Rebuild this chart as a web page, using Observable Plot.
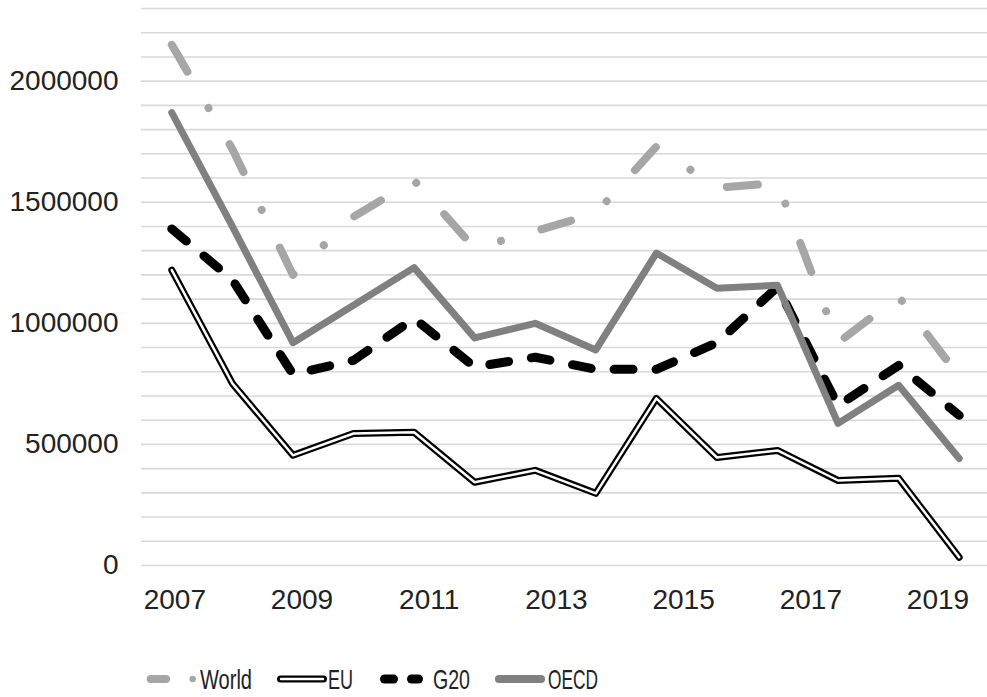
<!DOCTYPE html>
<html>
<head>
<meta charset="utf-8">
<script src="https://cdn.jsdelivr.net/npm/d3@7"></script>
<script src="https://cdn.jsdelivr.net/npm/@observablehq/plot@0.6"></script>
<style>
  html, body { margin: 0; padding: 0; background: #fff; }
  #wrap { position: relative; width: 987px; height: 697px; overflow: hidden; }
  #legend { position: absolute; left: 0; top: 630px; }
</style>
</head>
<body>
<div id="wrap">
  <div id="chart"></div>
  <svg id="legend" width="987" height="67"></svg>
</div>
<script>
// ---- data ----
const years = [2007, 2008, 2009, 2010, 2011, 2012, 2013, 2014, 2015, 2016, 2017, 2018, 2019, 2020];
const world = [2150000, 1720000, 1200000, 1440000, 1590000, 1310000, 1380000, 1455000, 1730000, 1560000, 1580000, 920000, 1110000, 780000];
const eu    = [1220000, 752000, 455000, 545000, 550000, 344000, 393000, 298000, 690000, 446000, 475000, 351000, 360000, 34000];
const g20   = [1390000, 1180000, 790000, 847000, 1020000, 820000, 860000, 810000, 810000, 920000, 1150000, 660000, 826000, 620000];
const oecd  = [1870000, 1400000, 920000, 1075000, 1230000, 940000, 1000000, 890000, 1290000, 1145000, 1157000, 587000, 744000, 442000];
const seriesNames = ["World", "EU", "G20", "OECD"];
const xTickLabels = ["2007", "2009", "2011", "2013", "2015", "2017", "2019"];
const yTickValues = [0, 500000, 1000000, 1500000, 2000000];

// ---- layout helpers ----
const gridValues = d3.range(0, 2300001, 100000);
const labelStep = 2.1; // the reference's year labels sit slightly wider apart than the points
const xTickPos = xTickLabels.map((_, k) => years[0] + 0.05 + labelStep * k);
const labelByPos = new Map(xTickPos.map((p, k) => [p, xTickLabels[k]]));

const font = "'Liberation Sans', Arial, sans-serif";
const xOf = (d, i) => years[i];
const yOf = d => d;
const common = {x: xOf, y: yOf, strokeLinecap: "round", strokeLinejoin: "round"};

const chart = Plot.plot({
  width: 987,
  height: 630,
  marginLeft: 141,
  marginRight: 0,
  marginTop: 8,
  marginBottom: 65,
  style: {fontFamily: font, fontSize: "28px", color: "#222", background: "#fff", overflow: "visible"},
  x: {domain: [2006.5, 2020.5], range: [141, 989]},
  y: {domain: [0, 2300000]},
  marks: [
    Plot.ruleY(gridValues, {stroke: "#d9d9d9", strokeWidth: 1.6}),
    Plot.axisY(yTickValues, {tickSize: 0, tickPadding: 23, tickFormat: d => String(d), fontSize: 28, label: null, fill: "#222"}),
    Plot.axisX(xTickPos, {tickSize: 0, tickPadding: 24, tickFormat: d => labelByPos.get(d), fontSize: 28, label: null, fill: "#222"}),
    Plot.line(world, {...common, stroke: "#a6a6a6", strokeWidth: 8, strokeDasharray: "31,42,0.01,42"}),
    Plot.line(eu, {...common, stroke: "#000", strokeWidth: 7}),
    Plot.line(eu, {...common, stroke: "#fff", strokeWidth: 2.5}),
    Plot.line(g20, {...common, stroke: "#000", strokeWidth: 9, strokeDasharray: "19,23"}),
    Plot.line(oecd, {...common, stroke: "#808080", strokeWidth: 7})
  ]
});
document.getElementById("chart").appendChild(chart);

// ---- legend ----
const lg = d3.select("#legend");
const cy = 49;
// World
lg.append("line").attr("x1", 150.7).attr("x2", 166).attr("y1", cy).attr("y2", cy)
  .attr("stroke", "#a6a6a6").attr("stroke-width", 8).attr("stroke-linecap", "round");
lg.append("circle").attr("cx", 192.7).attr("cy", cy).attr("r", 3.2).attr("fill", "#a6a6a6");
// EU
lg.append("line").attr("x1", 280.5).attr("x2", 323.5).attr("y1", cy).attr("y2", cy)
  .attr("stroke", "#000").attr("stroke-width", 7).attr("stroke-linecap", "round");
lg.append("line").attr("x1", 281).attr("x2", 323).attr("y1", cy).attr("y2", cy)
  .attr("stroke", "#fff").attr("stroke-width", 2.5).attr("stroke-linecap", "round");
// G20
[[384.5, 393.5], [411.5, 418.5]].forEach(([a, b]) =>
  lg.append("line").attr("x1", a).attr("x2", b).attr("y1", cy).attr("y2", cy)
    .attr("stroke", "#000").attr("stroke-width", 9).attr("stroke-linecap", "round"));
// OECD
lg.append("line").attr("x1", 499).attr("x2", 541).attr("y1", cy).attr("y2", cy)
  .attr("stroke", "#808080").attr("stroke-width", 8).attr("stroke-linecap", "round");

const legendText = [[200, 52], [328, 25], [433, 37], [548, 50]];
seriesNames.forEach((name, k) => {
  lg.append("text").attr("x", legendText[k][0]).attr("y", 59)
    .attr("textLength", legendText[k][1]).attr("lengthAdjust", "spacingAndGlyphs")
    .attr("font-family", font).attr("font-size", 28).attr("fill", "#222")
    .text(name);
});
</script>
</body>
</html>
